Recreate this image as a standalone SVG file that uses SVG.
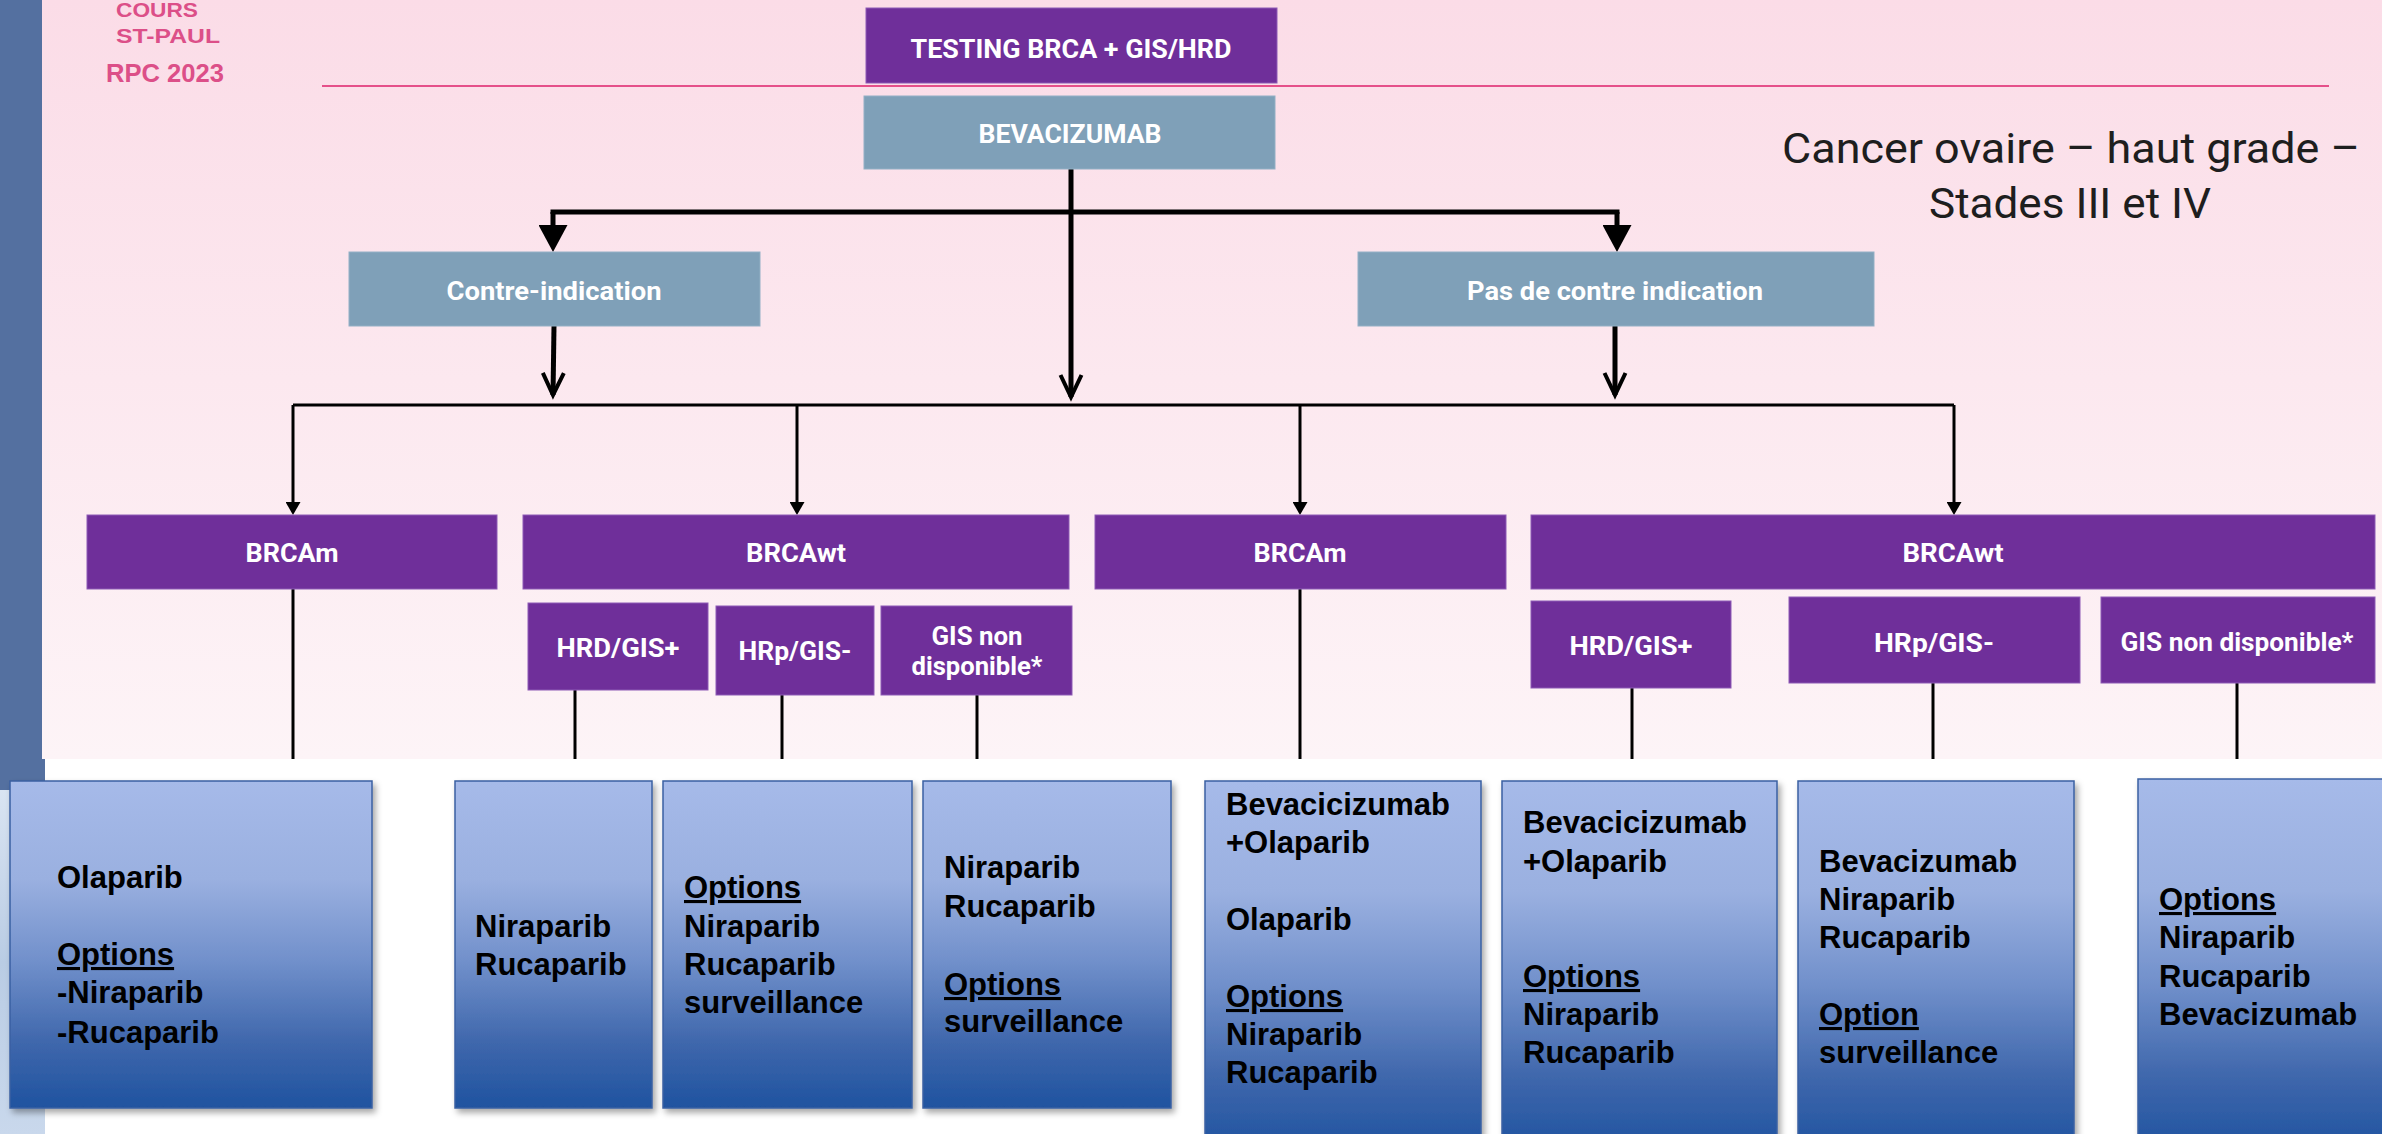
<svg xmlns="http://www.w3.org/2000/svg" width="2382" height="1134" viewBox="0 0 2382 1134">
<defs>
  <style>
    .pur { fill:#6f2f9a; stroke:#8d5bb5; stroke-width:1; }
    .gry { fill:#7fa0b8; stroke:#93b0c5; stroke-width:1; }
    .lbl { font-family:"Liberation Sans Narrow","Roboto","Liberation Sans",sans-serif; font-weight:bold; fill:#ffffff; font-size:25px; text-anchor:middle; }
    .box { fill:url(#boxGrad); stroke:#3a60a2; stroke-width:1.5; filter:url(#shadow); }
    .bt { font-family:"Liberation Sans",Arial,sans-serif; font-weight:bold; font-size:31px; fill:#000000; }
    .u { text-decoration:underline; }
    .hdr { font-family:"Liberation Sans",Arial,sans-serif; fill:#dc4f88; font-weight:bold; }
    .ttl { font-family:"Liberation Sans Narrow","Roboto","Liberation Sans",sans-serif; font-size:42px; fill:#1e1e1e; text-anchor:middle; }
    .thick { stroke:#000; stroke-width:5; fill:none; }
    .thin { stroke:#000; stroke-width:3; fill:none; }
  </style>
  <linearGradient id="bgPink" x1="0" y1="0" x2="0" y2="1">
    <stop offset="0" stop-color="#fbdce7"/>
    <stop offset="1" stop-color="#fdf4f7"/>
  </linearGradient>
  <linearGradient id="photo" x1="0" y1="0" x2="0" y2="1">
    <stop offset="0" stop-color="#d9e4f2"/>
    <stop offset="0.5" stop-color="#b9cce4"/>
    <stop offset="1" stop-color="#c9d8ec"/>
  </linearGradient>
  <linearGradient id="boxGrad" x1="0" y1="0" x2="0" y2="1">
    <stop offset="0" stop-color="#a6bae9"/>
    <stop offset="0.3" stop-color="#9ab0e0"/>
    <stop offset="0.55" stop-color="#7190cb"/>
    <stop offset="0.8" stop-color="#3f67ac"/>
    <stop offset="1" stop-color="#1f53a0"/>
  </linearGradient>
  <filter id="shadow" x="-10%" y="-10%" width="125%" height="125%">
    <feDropShadow dx="3" dy="4" stdDeviation="3" flood-color="#000" flood-opacity="0.35"/>
  </filter>
  <marker id="bigArrow" viewBox="0 0 27 29" markerWidth="27" markerHeight="29" refX="15" refY="14.5" orient="auto" markerUnits="userSpaceOnUse">
    <path d="M0,0 L27,14.5 L0,29 z" fill="#000"/>
  </marker>
  <marker id="chev" viewBox="0 0 23 23" markerWidth="23" markerHeight="23" refX="23" refY="11.5" orient="auto" markerUnits="userSpaceOnUse" overflow="visible">
    <path d="M1,1 L23,11.5 L1,22" fill="none" stroke="#000" stroke-width="4" stroke-linejoin="miter"/>
  </marker>
  <marker id="smallArrow" viewBox="0 0 13 15" markerWidth="13" markerHeight="15" refX="7" refY="7.5" orient="auto" markerUnits="userSpaceOnUse">
    <path d="M0,0 L13,7.5 L0,15 z" fill="#000"/>
  </marker>
</defs>

<!-- background -->
<rect x="0" y="0" width="2382" height="1134" fill="#ffffff"/>
<rect x="42" y="0" width="2340" height="759" fill="url(#bgPink)"/>
<rect x="0" y="0" width="42" height="759" fill="#5470a0"/>
<rect x="0" y="759" width="45" height="31" fill="#5470a0"/>
<rect x="0" y="790" width="45" height="344" fill="url(#photo)"/>

<!-- header -->
<text class="hdr" x="116" y="17" font-size="21" fill="#de5a90" textLength="82" lengthAdjust="spacingAndGlyphs">COURS</text>
<text class="hdr" x="116" y="43" font-size="21" fill="#de5a90" textLength="104" lengthAdjust="spacingAndGlyphs">ST-PAUL</text>
<text class="hdr" x="106" y="82" font-size="26" fill="#d8437f" textLength="118" lengthAdjust="spacingAndGlyphs">RPC 2023</text>
<line x1="322" y1="86" x2="2329" y2="86" stroke="#e5508a" stroke-width="2"/>

<!-- title -->
<text class="ttl" x="2071" y="163" textLength="578" lengthAdjust="spacingAndGlyphs">Cancer ovaire – haut grade –</text>
<text class="ttl" x="2070" y="218" textLength="282" lengthAdjust="spacingAndGlyphs">Stades III et IV</text>

<!-- connectors -->
<g id="connectors">
  <path class="thick" d="M1071,169 L1071,397" marker-end="url(#chev)"/>
  <path class="thick" d="M553,214 L553,212 L1617,212 L1617,214"/>
  <path class="thick" d="M553,212 L553,240" marker-end="url(#bigArrow)"/>
  <path class="thick" d="M1617,212 L1617,240" marker-end="url(#bigArrow)"/>
  <path class="thick" d="M554,326 L553,395" marker-end="url(#chev)"/>
  <path class="thick" d="M1615,326 L1615,395" marker-end="url(#chev)"/>
  <path class="thin" d="M293,405 L1954,405"/>
  <path class="thin" d="M293,405 L293,509" marker-end="url(#smallArrow)"/>
  <path class="thin" d="M797,405 L797,509" marker-end="url(#smallArrow)"/>
  <path class="thin" d="M1300,405 L1300,509" marker-end="url(#smallArrow)"/>
  <path class="thin" d="M1954,405 L1954,509" marker-end="url(#smallArrow)"/>
  <path class="thin" d="M293,589 L293,759"/>
  <path class="thin" d="M575,690 L575,759"/>
  <path class="thin" d="M782,695 L782,759"/>
  <path class="thin" d="M977,695 L977,759"/>
  <path class="thin" d="M1300,589 L1300,759"/>
  <path class="thin" d="M1632,688 L1632,759"/>
  <path class="thin" d="M1933,683 L1933,759"/>
  <path class="thin" d="M2237,683 L2237,759"/>
</g>

<!-- top nodes -->
<g id="n-testing">
  <rect class="pur" x="866" y="8" width="411" height="75"/>
  <text class="lbl" x="1071" y="58" font-size="28" textLength="321" lengthAdjust="spacingAndGlyphs">TESTING BRCA + GIS/HRD</text>
</g>
<g id="n-bevacizumab">
  <rect class="gry" x="864" y="96" width="411" height="73"/>
  <text class="lbl" x="1070" y="143" font-size="26" textLength="183" lengthAdjust="spacingAndGlyphs">BEVACIZUMAB</text>
</g>
<g id="n-contre">
  <rect class="gry" x="349" y="252" width="411" height="74"/>
  <text class="lbl" x="554" y="300" textLength="215" lengthAdjust="spacingAndGlyphs">Contre-indication</text>
</g>
<g id="n-pascontre">
  <rect class="gry" x="1358" y="252" width="516" height="74"/>
  <text class="lbl" x="1615" y="300" textLength="296" lengthAdjust="spacingAndGlyphs">Pas de contre indication</text>
</g>

<!-- mutation nodes -->
<g id="n-brcam1">
  <rect class="pur" x="87" y="515" width="410" height="74"/>
  <text class="lbl" x="292" y="562" textLength="93" lengthAdjust="spacingAndGlyphs">BRCAm</text>
</g>
<g id="n-brcawt1">
  <rect class="pur" x="523" y="515" width="546" height="74"/>
  <text class="lbl" x="796" y="562" textLength="100" lengthAdjust="spacingAndGlyphs">BRCAwt</text>
</g>
<g id="n-brcam2">
  <rect class="pur" x="1095" y="515" width="411" height="74"/>
  <text class="lbl" x="1300" y="562" textLength="93" lengthAdjust="spacingAndGlyphs">BRCAm</text>
</g>
<g id="n-brcawt2">
  <rect class="pur" x="1531" y="515" width="844" height="74"/>
  <text class="lbl" x="1953" y="562" textLength="101" lengthAdjust="spacingAndGlyphs">BRCAwt</text>
</g>

<g id="n-hrd1">
  <rect class="pur" x="528" y="603" width="180" height="87"/>
  <text class="lbl" x="618" y="657" textLength="123" lengthAdjust="spacingAndGlyphs">HRD/GIS+</text>
</g>
<g id="n-hrp1">
  <rect class="pur" x="716" y="606" width="158" height="89"/>
  <text class="lbl" x="795" y="660" textLength="113" lengthAdjust="spacingAndGlyphs">HRp/GIS-</text>
</g>
<g id="n-gisnd1">
  <rect class="pur" x="881" y="606" width="191" height="89"/>
  <text class="lbl" x="977" y="645" textLength="91" lengthAdjust="spacingAndGlyphs">GIS non</text>
  <text class="lbl" x="977" y="675" textLength="131" lengthAdjust="spacingAndGlyphs">disponible*</text>
</g>
<g id="n-hrd2">
  <rect class="pur" x="1531" y="601" width="200" height="87"/>
  <text class="lbl" x="1631" y="655" textLength="123" lengthAdjust="spacingAndGlyphs">HRD/GIS+</text>
</g>
<g id="n-hrp2">
  <rect class="pur" x="1789" y="597" width="291" height="86"/>
  <text class="lbl" x="1934" y="652" textLength="120" lengthAdjust="spacingAndGlyphs">HRp/GIS-</text>
</g>
<g id="n-gisnd2">
  <rect class="pur" x="2101" y="597" width="274" height="86"/>
  <text class="lbl" x="2237" y="651" textLength="233" lengthAdjust="spacingAndGlyphs">GIS non disponible*</text>
</g>

<!-- treatment boxes -->
<g id="t1">
  <rect class="box" x="10" y="781" width="362" height="327"/>
  <text class="bt" x="57" y="888">Olaparib</text>
  <text class="bt u" x="57" y="965">Options</text>
  <text class="bt" x="57" y="1003">-Niraparib</text>
  <text class="bt" x="57" y="1043">-Rucaparib</text>
</g>
<g id="t2">
  <rect class="box" x="455" y="781" width="197" height="327"/>
  <text class="bt" x="475" y="937">Niraparib</text>
  <text class="bt" x="475" y="975">Rucaparib</text>
</g>
<g id="t3">
  <rect class="box" x="663" y="781" width="249" height="327"/>
  <text class="bt u" x="684" y="898">Options</text>
  <text class="bt" x="684" y="937">Niraparib</text>
  <text class="bt" x="684" y="975">Rucaparib</text>
  <text class="bt" x="684" y="1013">surveillance</text>
</g>
<g id="t4">
  <rect class="box" x="923" y="781" width="248" height="327"/>
  <text class="bt" x="944" y="878">Niraparib</text>
  <text class="bt" x="944" y="917">Rucaparib</text>
  <text class="bt u" x="944" y="995">Options</text>
  <text class="bt" x="944" y="1032">surveillance</text>
</g>
<g id="t5">
  <rect class="box" x="1205" y="781" width="276" height="370"/>
  <text class="bt" x="1226" y="815">Bevacicizumab</text>
  <text class="bt" x="1226" y="853">+Olaparib</text>
  <text class="bt" x="1226" y="930">Olaparib</text>
  <text class="bt u" x="1226" y="1007">Options</text>
  <text class="bt" x="1226" y="1045">Niraparib</text>
  <text class="bt" x="1226" y="1083">Rucaparib</text>
</g>
<g id="t6">
  <rect class="box" x="1502" y="781" width="275" height="370"/>
  <text class="bt" x="1523" y="833">Bevacicizumab</text>
  <text class="bt" x="1523" y="872">+Olaparib</text>
  <text class="bt u" x="1523" y="987">Options</text>
  <text class="bt" x="1523" y="1025">Niraparib</text>
  <text class="bt" x="1523" y="1063">Rucaparib</text>
</g>
<g id="t7">
  <rect class="box" x="1798" y="781" width="276" height="370"/>
  <text class="bt" x="1819" y="872">Bevacizumab</text>
  <text class="bt" x="1819" y="910">Niraparib</text>
  <text class="bt" x="1819" y="948">Rucaparib</text>
  <text class="bt u" x="1819" y="1025">Option</text>
  <text class="bt" x="1819" y="1063">surveillance</text>
</g>
<g id="t8">
  <rect class="box" x="2138" y="779" width="270" height="372"/>
  <text class="bt u" x="2159" y="910">Options</text>
  <text class="bt" x="2159" y="948">Niraparib</text>
  <text class="bt" x="2159" y="987">Rucaparib</text>
  <text class="bt" x="2159" y="1025">Bevacizumab</text>
</g>
</svg>
